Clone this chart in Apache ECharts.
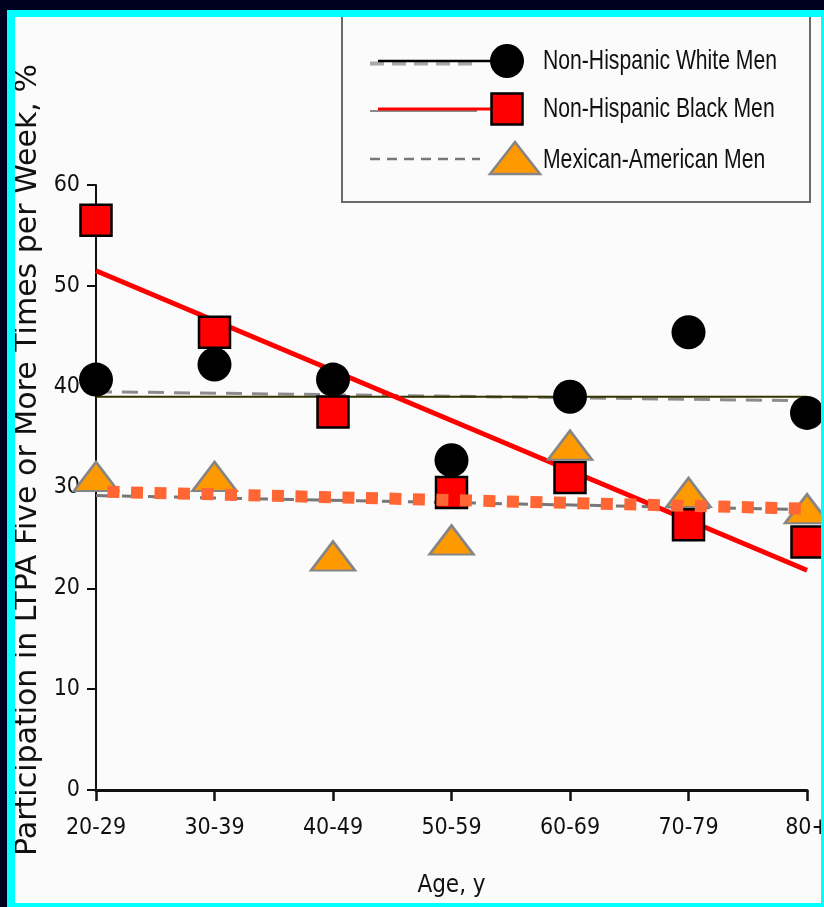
<!DOCTYPE html>
<html>
<head>
<meta charset="utf-8">
<title>LTPA participation by age</title>
<script src="https://cdn.jsdelivr.net/npm/echarts@6/dist/echarts.min.js"></script>
<style>
  html, body { margin: 0; padding: 0; width: 824px; height: 907px; background: #00001f; overflow: hidden; }
  #frame { position: absolute; left: 7px; top: 10px; width: 817px; height: 897px; background: #00ffff; }
  #chart { position: absolute; left: 15px; top: 17px; width: 806px; height: 886px; background: #fbfbfb; }
</style>
</head>
<body>
<div id="frame"></div>
<div id="chart"></div>
<script>
// Age groups on the x axis
const ageGroups = ['20-29', '30-39', '40-49', '50-59', '60-69', '70-79', '80+'];

// Percent participating in LTPA five or more times per week
const whiteMen   = [40.7, 42.2, 40.7, 32.7, 39.0, 45.4, 37.4];
const blackMen   = [56.5, 45.4, 37.5, 29.5, 31.0, 26.3, 24.6];
const mexicanMen = [31.1, 31.1, 23.2, 24.8, 34.2, 29.5, 27.9];

// Fitted trend lines: value at the youngest and at the oldest age group
const whiteTrendSolid  = [39.0, 39.0];
const whiteTrendDashed = [39.5, 38.6];
const blackTrend       = [51.5, 21.8];
const mexicanTrendDash = [29.2, 27.8];
const mexicanTrendDots = [29.6, 27.9];

// Y axis ticks
const yTicks = [0, 10, 20, 30, 40, 50, 60];

const legendNames = ['Non-Hispanic White Men', 'Non-Hispanic Black Men', 'Mexican-American Men'];

const NARROW = '"DejaVu Sans Condensed", "Liberation Sans Narrow", sans-serif';
const SANS = '"Liberation Sans", Arial, Helvetica, sans-serif';
const WIDE = '"DejaVu Sans", "Liberation Sans", sans-serif';

function ends(pair) {
  return [[ageGroups[0], pair[0]], [ageGroups[ageGroups.length - 1], pair[1]]];
}

function trend(pair, style, z) {
  return {
    type: 'line', data: ends(pair), symbol: 'none', silent: true,
    lineStyle: style, z: z, animation: false
  };
}

// Legend labels are set in a tall, compressed face: measure natural width, squeeze to fit
const measureCtx = document.createElement('canvas').getContext('2d');
const LEGEND_FONT = '28px ' + SANS;
measureCtx.font = LEGEND_FONT;
const legendTextWidth = 234;
const legendScale = legendTextWidth / measureCtx.measureText(legendNames[0]).width;

// Hand-drawn legend panel (line sample + marker + label per row)
const legendRows = [44, 92, 141];
const legendGraphic = [
  { type: 'rect', shape: { x: 327, y: -6, width: 468, height: 191 },
    style: { fill: 'none', stroke: '#6a6a6a', lineWidth: 2 }, z: 100 },
  // row 1: white men
  { type: 'line', shape: { x1: 355, y1: legendRows[0] + 2.5, x2: 462, y2: legendRows[0] + 2.5 },
    style: { stroke: '#a8a8a8', lineWidth: 4, lineDash: [14, 8] }, z: 100 },
  { type: 'line', shape: { x1: 363, y1: legendRows[0], x2: 480, y2: legendRows[0] },
    style: { stroke: '#000', lineWidth: 2.5 }, z: 101 },
  { type: 'circle', shape: { cx: 492, cy: legendRows[0], r: 17 }, style: { fill: '#000' }, z: 102 },
  // row 2: black men
  { type: 'line', shape: { x1: 355, y1: legendRows[1] + 2, x2: 462, y2: legendRows[1] + 2 },
    style: { stroke: '#8a8a8a', lineWidth: 2 }, z: 100 },
  { type: 'line', shape: { x1: 363, y1: legendRows[1], x2: 480, y2: legendRows[1] },
    style: { stroke: '#ff0000', lineWidth: 3 }, z: 101 },
  { type: 'rect', shape: { x: 476.5, y: legendRows[1] - 15.5, width: 31, height: 31 },
    style: { fill: '#ff0000', stroke: '#000', lineWidth: 2.5 }, z: 102 },
  // row 3: Mexican-American men
  { type: 'line', shape: { x1: 355, y1: legendRows[2] + 1, x2: 465, y2: legendRows[2] + 1 },
    style: { stroke: '#777', lineWidth: 2.5, lineDash: [10, 7] }, z: 100 },
  { type: 'polygon', shape: { points: [[500, legendRows[2] - 16], [525, legendRows[2] + 16], [475, legendRows[2] + 16]] },
    style: { fill: '#ff9900', stroke: '#858585', lineWidth: 2.5 }, z: 102 }
];
legendNames.forEach(function (name, i) {
  legendGraphic.push({
    type: 'text', x: 528, y: legendRows[i] + (i === 2 ? 2 : 0), scaleX: legendScale, z: 103,
    style: { text: name, font: LEGEND_FONT, fill: '#111', verticalAlign: 'middle', align: 'left' }
  });
});

const chart = echarts.init(document.getElementById('chart'), null, { renderer: 'canvas' });

chart.setOption({
  backgroundColor: 'transparent',
  animation: false,
  grid: { left: 81, right: 14, top: 168, bottom: 113, containLabel: false, outerBoundsMode: 'none' },
  xAxis: {
    type: 'category',
    data: ageGroups,
    boundaryGap: false,
    name: 'Age, y',
    nameLocation: 'middle',
    nameGap: 84,
    nameTextStyle: { fontFamily: NARROW, fontSize: 24, color: '#111' },
    axisLine: { lineStyle: { color: '#111', width: 3 } },
    axisTick: { alignWithLabel: true, length: 11, lineStyle: { color: '#111', width: 2.5 } },
    axisLabel: { fontFamily: NARROW, fontSize: 23, color: '#111', margin: 27, interval: 0 },
    splitLine: { show: false }
  },
  yAxis: {
    type: 'value',
    min: yTicks[0],
    max: yTicks[yTicks.length - 1],
    interval: yTicks[1] - yTicks[0],
    name: 'Participation in LTPA Five or More Times per Week, %',
    nameLocation: 'middle',
    nameGap: 50,
    nameTextStyle: { fontFamily: WIDE, fontSize: 30, color: '#111', padding: [0, 0, 0, 55] },
    axisLine: { show: true, lineStyle: { color: '#111', width: 2 } },
    axisTick: { show: true, length: 9, lineStyle: { color: '#111', width: 2 } },
    axisLabel: { fontFamily: NARROW, fontSize: 23, color: '#111', margin: 16 },
    splitLine: { show: false }
  },
  graphic: legendGraphic,
  series: [
    trend(whiteTrendDashed, { color: '#8c8c8c', width: 3, type: [16, 10] }, 1),
    trend(mexicanTrendDash, { color: '#777', width: 3, type: [16, 10] }, 1),
    trend(whiteTrendSolid, { color: '#333300', width: 2 }, 2),
    trend(blackTrend, { color: '#ff0000', width: 5 }, 3),
    {
      name: legendNames[0], type: 'scatter', data: whiteMen, z: 4,
      symbol: 'circle', symbolSize: 34,
      itemStyle: { color: '#000', opacity: 1 }
    },
    {
      name: legendNames[1], type: 'scatter', data: blackMen, z: 5,
      symbol: 'rect', symbolSize: 31,
      itemStyle: { color: '#ff0000', borderColor: '#000', borderWidth: 2.5, opacity: 1 }
    },
    {
      name: legendNames[2], type: 'scatter', data: mexicanMen, z: 6,
      symbol: 'triangle', symbolSize: [44, 29],
      itemStyle: { color: '#ff9900', borderColor: '#858585', borderWidth: 2.5, opacity: 1 }
    },
    trend(mexicanTrendDots, { color: '#ff6633', width: 12, type: [12, 11.5], dashOffset: 12, cap: 'butt' }, 7)
  ]
});
</script>
</body>
</html>
